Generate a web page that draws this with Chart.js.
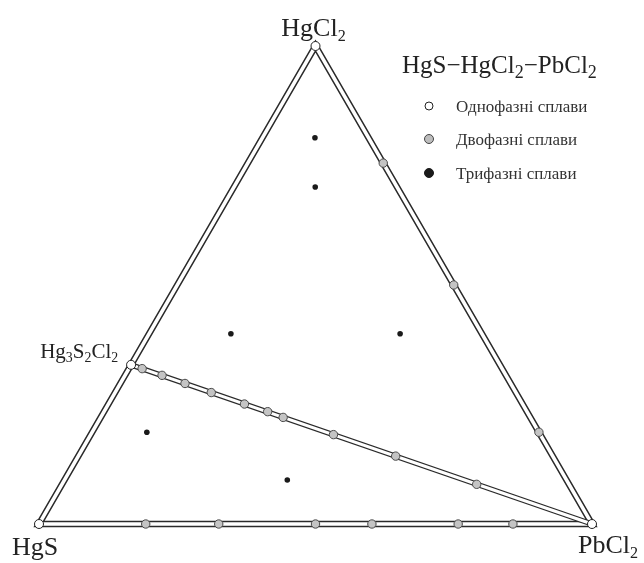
<!DOCTYPE html>
<html>
<head>
<meta charset="utf-8">
<script src="https://cdn.jsdelivr.net/npm/chart.js@4"></script>
<style>
  html, body { margin: 0; padding: 0; background: #fff; }
  #wrap { width: 644px; height: 563px; }
</style>
</head>
<body>
<div id="wrap"><canvas id="chart"></canvas></div>
<script>
// Compositions in mol %: PbCl2 and HgCl2 (HgS = rest)
const verticesPbCl2 = [0, 100, 0, 0, 100];
const verticesHgCl2 = [0, 0, 100, 0, 0];

const tieLinePbCl2 = [0, 100];
const tieLineHgCl2 = [33.3, 0];

const onePhasePbCl2 = [0, 100, 0, 0];
const onePhaseHgCl2 = [0, 0, 100, 33.3];

const twoPhasePbCl2 = [19.3, 32.5, 50, 60.2, 75.8, 85.7, 24.5, 50, 80.8, 2.4, 6.7, 11.7, 17.4, 24.6, 29.6, 33, 43.9, 57.4, 75];
const twoPhaseHgCl2 = [0, 0, 0, 0, 0, 0, 75.5, 50, 19.2, 32.5, 31.1, 29.4, 27.5, 25.1, 23.5, 22.3, 18.7, 14.2, 8.3];

const threePhasePbCl2 = [9.5, 14.7, 14.8, 45.4, 9.9, 40.3];
const threePhaseHgCl2 = [80.8, 70.5, 39.8, 39.8, 19.2, 9.2];

const legendLabels = ['Однофазні сплави', 'Двофазні сплави', 'Трифазні сплави'];

const H = Math.sqrt(3) / 2;
// ternary -> cartesian
const toXY = (pb, hg) => pb.map((b, i) => ({ x: (b + hg[i] / 2) / 100, y: hg[i] / 100 * H }));

const FONT = '"Liberation Serif", "Times New Roman", serif';
const INK = '#222';

// text with subscripts: parts = [[text, isSub], ...]
function chemWidth(ctx, parts, size, subScale) {
  let w = 0;
  parts.forEach(([t, sub]) => {
    ctx.font = (sub ? size * subScale : size) + 'px ' + FONT;
    w += ctx.measureText(t).width;
  });
  return w;
}
function drawChem(ctx, parts, x, y, size, align, subScale = 0.62, subDrop = 0.2) {
  const w = chemWidth(ctx, parts, size, subScale);
  let cx = align === 'center' ? x - w / 2 : align === 'right' ? x - w : x;
  ctx.textAlign = 'left';
  ctx.textBaseline = 'alphabetic';
  ctx.fillStyle = INK;
  parts.forEach(([t, sub]) => {
    const s = sub ? size * subScale : size;
    ctx.font = s + 'px ' + FONT;
    ctx.fillText(t, cx, sub ? y + size * subDrop : y);
    cx += ctx.measureText(t).width;
  });
}

const labelsPlugin = {
  id: 'labels',
  afterDraw(chart) {
    const { ctx, scales: { x, y } } = chart;
    ctx.save();
    const px = (cx) => x.getPixelForValue(cx);
    const py = (cy) => y.getPixelForValue(cy);

    drawChem(ctx, [['HgCl', 0], ['2', 1]], px(0.5) - 2, py(H) - 10, 26, 'center');
    drawChem(ctx, [['HgS', 0]], px(0) - 27, py(0) + 31, 26, 'left');
    drawChem(ctx, [['PbCl', 0], ['2', 1]], px(1) - 14, py(0) + 29, 26, 'left');
    drawChem(ctx, [['Hg', 0], ['3', 1], ['S', 0], ['2', 1], ['Cl', 0], ['2', 1]],
      px(1 / 6) - 13, py(H / 3) - 7, 21, 'right', 0.66, 0.2);

    // title
    drawChem(ctx, [['HgS\u2212HgCl', 0], ['2', 1], ['\u2212PbCl', 0], ['2', 1]], 402, 73, 25, 'left', 0.72, 0.18);

    // legend
    const ly = [106, 139, 173];
    const styles = [
      { fill: '#fff', stroke: '#222', r: 4 },
      { fill: '#bdbdbd', stroke: '#444', r: 4.5 },
      { fill: '#1a1a1a', stroke: '#1a1a1a', r: 4.5 },
    ];
    legendLabels.forEach((t, i) => {
      ctx.beginPath();
      ctx.arc(429, ly[i], styles[i].r, 0, Math.PI * 2);
      ctx.fillStyle = styles[i].fill;
      ctx.fill();
      ctx.lineWidth = 1;
      ctx.strokeStyle = styles[i].stroke;
      ctx.stroke();
      ctx.fillStyle = '#333';
      ctx.font = '17px ' + FONT;
      ctx.textAlign = 'left';
      ctx.textBaseline = 'alphabetic';
      ctx.fillText(t, 456, ly[i] + 6);
    });
    ctx.restore();
  },
};

const lineDs = (data, color, width, order) => ({
  data,
  showLine: true,
  borderColor: color,
  borderWidth: width,
  borderJoinStyle: 'miter',
  pointRadius: 0,
  pointHoverRadius: 0,
  tension: 0,
  clip: false,
  order,
});

const triangle = toXY(verticesPbCl2, verticesHgCl2);
const tieLine = toXY(tieLinePbCl2, tieLineHgCl2);

new Chart(document.getElementById('chart'), {
  type: 'scatter',
  data: {
    datasets: [
      lineDs(triangle, '#2a2a2a', 6.5, 10),
      lineDs(triangle, '#ffffff', 3.5, 9),
      lineDs(tieLine, '#2a2a2a', 5.5, 8),
      lineDs(tieLine, '#ffffff', 3, 7),
      {
        data: toXY(twoPhasePbCl2, twoPhaseHgCl2),
        pointRadius: 4.2,
        pointBackgroundColor: '#c4c4c4',
        pointBorderColor: '#4a4a4a',
        pointBorderWidth: 1,
        clip: false,
        order: 3,
      },
      {
        data: toXY(threePhasePbCl2, threePhaseHgCl2),
        pointRadius: 2.8,
        pointBackgroundColor: '#1a1a1a',
        pointBorderColor: '#1a1a1a',
        pointBorderWidth: 0,
        clip: false,
        order: 2,
      },
      {
        data: toXY(onePhasePbCl2, onePhaseHgCl2),
        pointRadius: 4.5,
        pointBackgroundColor: '#ffffff',
        pointBorderColor: '#222',
        pointBorderWidth: 1,
        clip: false,
        order: 1,
      },
    ],
  },
  options: {
    responsive: true,
    maintainAspectRatio: false,
    animation: false,
    layout: { padding: { left: 39, right: 52, top: 46, bottom: 39 } },
    scales: {
      x: { type: 'linear', min: 0, max: 1, display: false },
      y: { type: 'linear', min: 0, max: H, display: false },
    },
    plugins: {
      legend: { display: false },
      tooltip: { enabled: false },
    },
  },
  plugins: [labelsPlugin],
});
</script>
</body>
</html>
